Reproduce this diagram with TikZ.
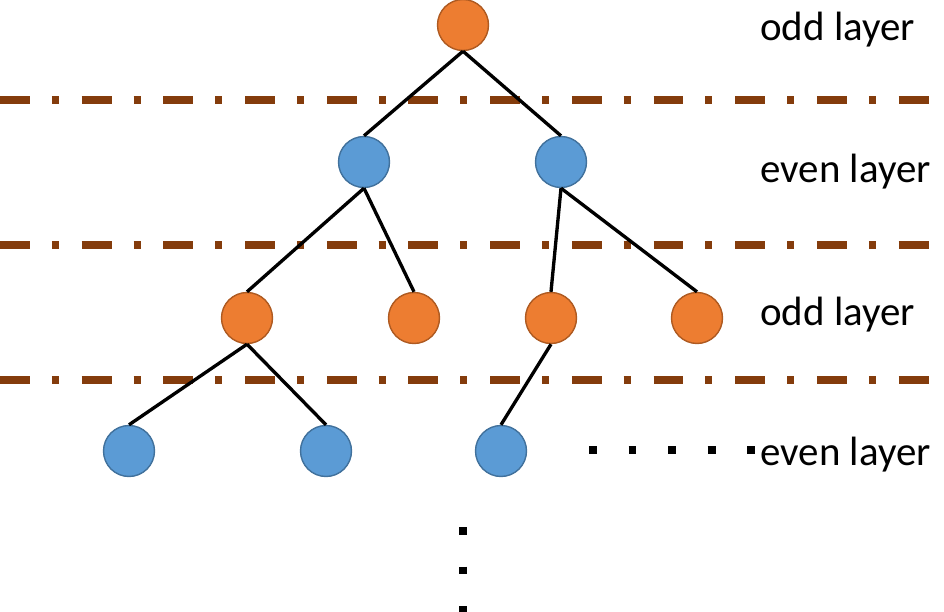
\documentclass[tikz,border=0pt]{standalone}
\usepackage{fontspec}
\setmainfont{Carlito}
\usepackage{xcolor}
\usepackage{tikz}
\usetikzlibrary{positioning}

\definecolor{oddfill}{HTML}{ED7D31}
\definecolor{odddraw}{HTML}{AE5A21}
\definecolor{evenfill}{HTML}{5B9BD5}
\definecolor{evendraw}{HTML}{41719C}
\definecolor{sepcol}{HTML}{843C0C}

\begin{document}
\begin{tikzpicture}[x=0.02cm, y=-0.02cm]
				% Styles
				\tikzstyle{odd} = [circle, draw=odddraw, fill=oddfill, line width=0.8pt, minimum size=1.02cm, inner sep=0pt]
				\tikzstyle{even} = [circle, draw=evendraw, fill=evenfill, line width=0.8pt, minimum size=1.02cm, inner sep=0pt]
				\tikzstyle{sep} = [draw=sepcol, line width=4pt, dash pattern=on 17pt off 12.5pt on 4pt off 13pt]
				\tikzstyle{edge} = [draw=black, line width=1.9pt]
				\tikzstyle{dots} = [draw=black, line width=4.5pt, dash pattern=on 4.5pt off 18pt]
				\tikzstyle{layer} = [anchor=base west, inner sep=0pt, font=\fontsize{23.3}{28}\selectfont]

				\useasboundingbox (0,0) rectangle (944,612);

				% Separators
				\draw [sep] (0,100) -- (930,100);
				\draw [sep] (0,245) -- (930,245);
				\draw [sep] (0,380) -- (930,380);

				% Nodes
				\node (root) [odd] at (463,25) {};
				\node (b1) [even] at (364,162) {};
				\node (b2) [even] at (561,162) {};
				\node (o1) [odd] at (247,318) {};
				\node (o2) [odd] at (414,318) {};
				\node (o3) [odd] at (551,318) {};
				\node (o4) [odd] at (697,318) {};
				\node (c1) [even] at (129,451) {};
				\node (c2) [even] at (326,451) {};
				\node (c3) [even] at (501,451) {};

				% Labels
				\node (lbl1) [layer] at (760,40) {odd layer};
				\node (lbl2) [layer] at (760,182) {even layer};
				\node (lbl3) [layer] at (760,325) {odd layer};
				\node (lbl4) [layer] at (760,465) {even layer};

				% Connections
				\draw [edge] (root.south) -- (b1.north);
				\draw [edge] (root.south) -- (b2.north);
				\draw [edge] (b1.south) -- (o1.north);
				\draw [edge] (b1.south) -- (o2.north);
				\draw [edge] (b2.south) -- (o3.north);
				\draw [edge] (b2.south) -- (o4.north);
				\draw [edge] (o1.south) -- (c1.north);
				\draw [edge] (o1.south) -- (c2.north);
				\draw [edge] (o3.south) -- (c3.north);

				% More
				\draw [dots] (589,450) -- (760,450);
				\draw [dots] (463,527) -- (463,612);

			\end{tikzpicture}
\end{document}
